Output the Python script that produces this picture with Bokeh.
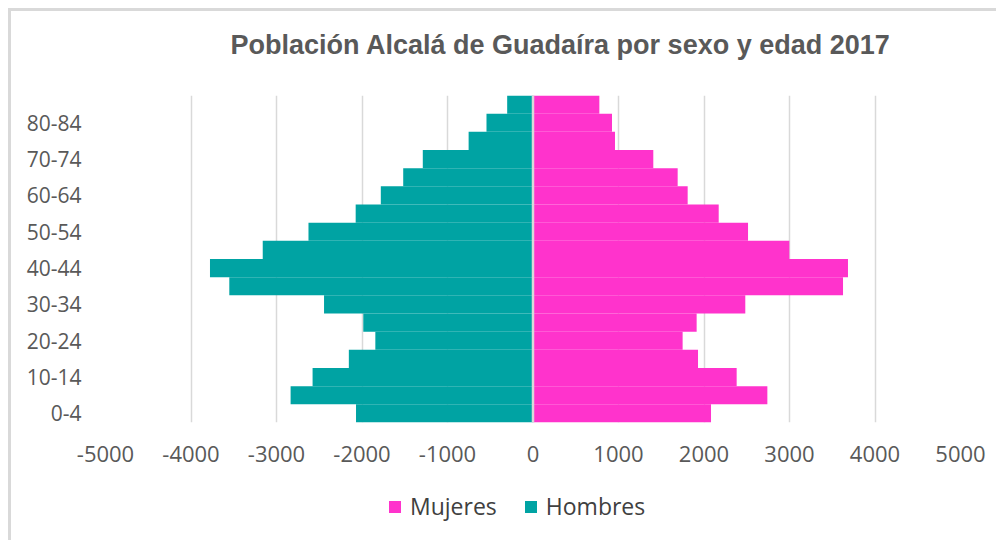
from bokeh.plotting import figure
from bokeh.models import (Range1d, FixedTicker, Span, Legend, LegendItem,
                          NumeralTickFormatter)
from bokeh.layouts import column
from bokeh.embed import file_html
from bokeh.resources import INLINE

# ---- data ----
age_groups = ["0-4", "5-9", "10-14", "15-19", "20-24", "25-29", "30-34", "35-39",
              "40-44", "45-49", "50-54", "55-59", "60-64", "65-69", "70-74",
              "75-79", "80-84", "85+"]
hombres = [2070, 2835, 2578, 2154, 1844, 1985, 2444, 3552, 3778, 3161,
           2626, 2074, 1780, 1518, 1289, 753, 544, 302]
mujeres = [2082, 2741, 2382, 1930, 1750, 1914, 2483, 3626, 3684, 2998,
           2515, 2172, 1809, 1692, 1407, 959, 924, 776]
x_ticks = [-5000, -4000, -3000, -2000, -1000, 0, 1000, 2000, 3000, 4000, 5000]
title_text = "Población Alcalá de Guadaíra por sexo y edad 2017"
series_names = ["Mujeres", "Hombres"]

PINK = "#FF33CC"
TEAL = "#00A3A3"
GRID = "#D9D9D9"
TXT = "#595959"

W = 985
HT, H1, H2 = 70, 388, 71
FL, FR = 94, 949
FT, FB = 84 - HT, 411 - HT          # frame top/bottom inside the chart figure
idx = list(range(len(age_groups)))
neg_h = [-v for v in hombres]


def blank(fig):
    fig.outline_line_color = None
    fig.grid.visible = False
    fig.background_fill_color = "white"
    fig.border_fill_color = "white"


# ---- title strip ----
pt = figure(width=W, height=HT, output_backend="svg", toolbar_location=None,
            x_range=Range1d(0, 1), y_range=Range1d(0, 1), min_border=0,
            x_axis_type=None, y_axis_type=None)
blank(pt)
pt.title.text = title_text
pt.title.align = "left"
pt.title.offset = 125
pt.title.standoff = 32
pt.title.text_font = "Liberation Sans"
pt.title.text_font_style = "bold"
pt.title.text_font_size = "27px"
pt.title.text_color = TXT

# ---- chart ----
p = figure(width=W, height=H1, output_backend="svg", toolbar_location=None,
           x_range=Range1d(-5000, 5000), y_range=Range1d(-0.5, len(age_groups) - 0.5),
           min_border_left=FL, min_border_right=W - FR, min_border_top=FT,
           min_border_bottom=H1 - FB)
p.outline_line_color = None
p.background_fill_color = "white"
p.border_fill_color = "white"
p.title.standoff = 0

p.hbar(y=idx, left=0, right=mujeres, height=1.0, fill_color=PINK, line_color=None)
p.hbar(y=idx, left=neg_h, right=0, height=1.0, fill_color=TEAL, line_color=None)

p.add_layout(Span(location=0, dimension="height", line_color=GRID, line_width=2.5))

p.ygrid.grid_line_color = None
p.xgrid.grid_line_color = GRID
p.xgrid.grid_line_width = 1.5
p.xgrid.ticker = FixedTicker(ticks=x_ticks)

p.xaxis.ticker = FixedTicker(ticks=x_ticks)
p.xaxis.formatter = NumeralTickFormatter(format="0")
p.xaxis.axis_line_color = None
p.xaxis.major_tick_line_color = None
p.xaxis.minor_tick_line_color = None
p.xaxis.major_label_text_font = "Open Sans"
p.xaxis.major_label_text_font_size = "22px"
p.xaxis.major_label_text_color = TXT
p.xaxis.major_label_standoff = 17

p.yaxis.ticker = FixedTicker(ticks=idx[::2])
p.yaxis.major_label_overrides = {i: age_groups[i] for i in idx[::2]}
p.yaxis.axis_line_color = None
p.yaxis.major_tick_line_color = None
p.yaxis.minor_tick_line_color = None
p.yaxis.major_label_text_font = "Open Sans"
p.yaxis.major_label_text_font_size = "21px"
p.yaxis.major_label_text_color = TXT
p.yaxis.major_label_standoff = 18

# ---- legend strip (its renderers lie far outside its visible ranges) ----
pl = figure(width=W, height=H2, output_backend="svg", toolbar_location=None,
            x_range=Range1d(-100001, -100000), y_range=Range1d(100, 101),
            min_border=0, x_axis_type=None, y_axis_type=None)
blank(pl)
lm = pl.hbar(y=idx, left=0, right=mujeres, height=1.0, fill_color=PINK, line_color=None)
lh = pl.hbar(y=idx, left=neg_h, right=0, height=1.0, fill_color=TEAL, line_color=None)
legend = Legend(items=[LegendItem(label=series_names[0], renderers=[lm]),
                       LegendItem(label=series_names[1], renderers=[lh])],
                orientation="horizontal", location=(282, 18))
legend.label_text_font = "Open Sans"
legend.label_text_font_size = "23px"
legend.label_text_color = "#404040"
legend.glyph_width = 15
legend.glyph_height = 15
legend.spacing = 26
legend.label_standoff = 8
legend.border_line_color = None
legend.background_fill_alpha = 0
legend.margin = 0
legend.padding = 4
pl.add_layout(legend)

layout = column(pt, p, pl, spacing=0, margin=(8, 0, 0, 8),
                styles={"border-left": "3px solid #D9D9D9",
                        "border-top": "3px solid #D9D9D9"})

open("out.html", "w").write(file_html(layout, INLINE))
